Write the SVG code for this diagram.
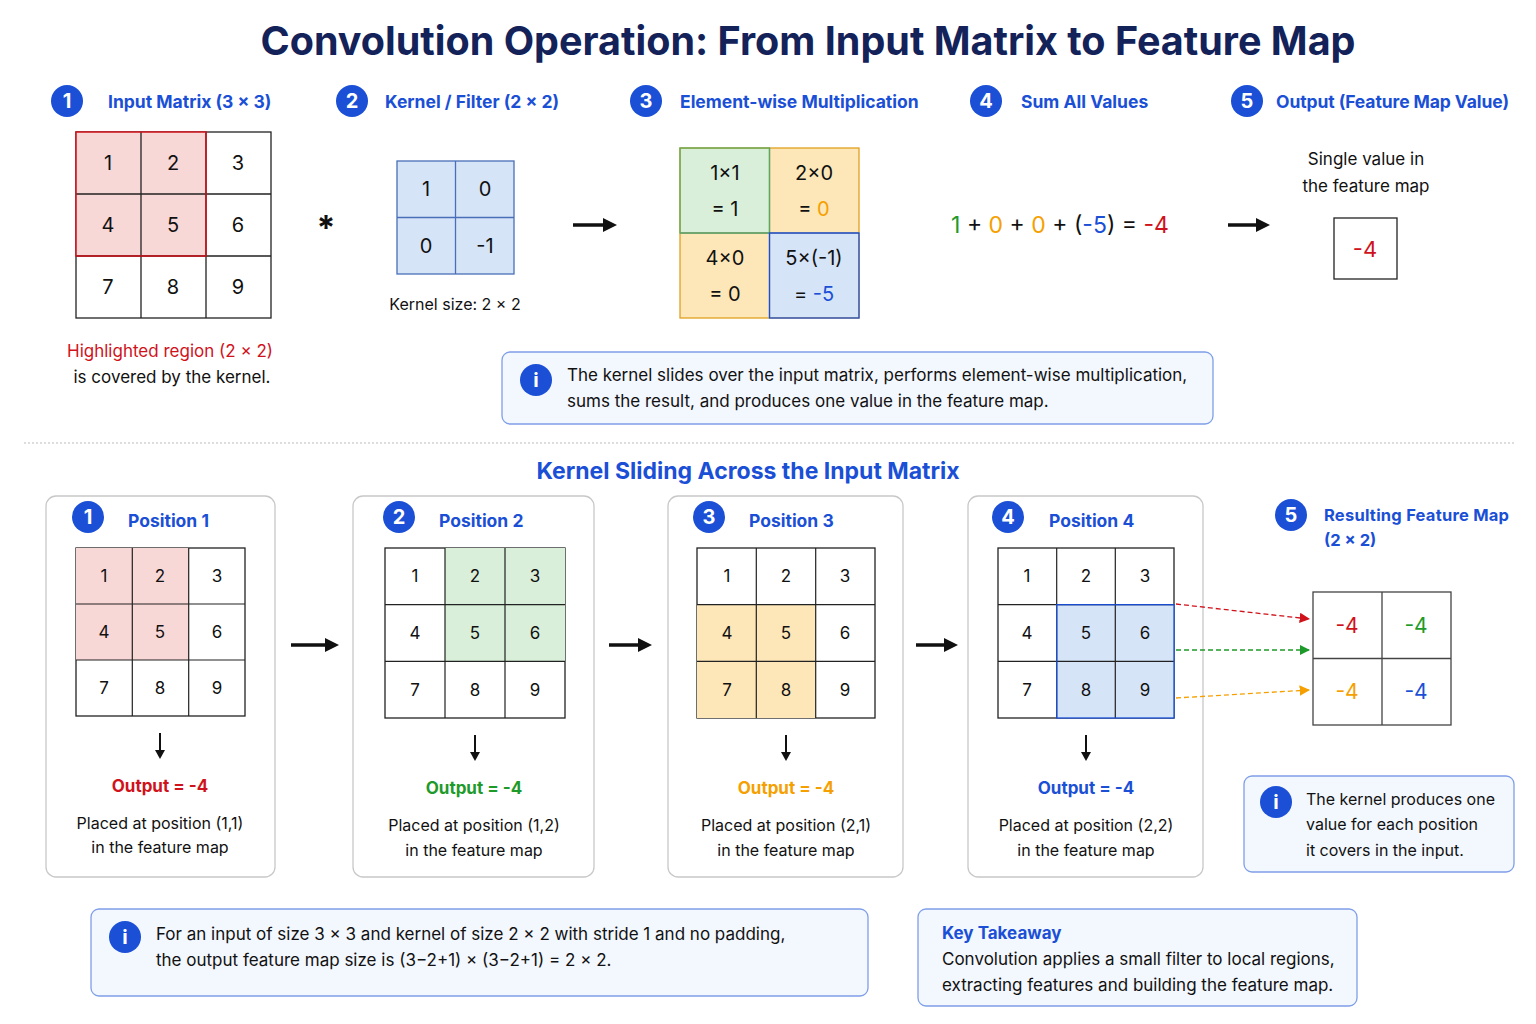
<svg xmlns="http://www.w3.org/2000/svg" width="1536" height="1024" viewBox="0 0 1536 1024">
<style>
text{font-family:Inter,"Noto Sans","Liberation Sans",sans-serif;fill:#111}
.t{font-size:39.5px;font-weight:700;fill:#14225a}
.h{font-size:17.5px;font-weight:700;fill:#1a4fd6}
.bn{font-size:20px;font-weight:700;fill:#fff}
.c{font-size:20px}
.s{font-size:16px}
.m{font-size:17px}
.cell{fill:#fff;stroke:#222;stroke-width:1.3}
.pan{fill:#fff;stroke:#c8c8c8;stroke-width:1.3}
.info{fill:#f3f7fe;stroke:#7f9fe8;stroke-width:1.3}
.red{fill:#d0121b}.grn{fill:#1e9a2a}.org{fill:#f5a000}.blu{fill:#1a4fd6}
.ar{stroke:#111;stroke-width:3.5;fill:none}
.dn{stroke:#111;stroke-width:2;fill:none}
</style>
<defs>
<marker id="ah" viewBox="0 0 10 10" refX="5" refY="5" markerWidth="4" markerHeight="4" orient="auto"><path d="M0,0L10,5L0,10z" fill="#111"/></marker>
<marker id="ar" viewBox="0 0 10 10" refX="9" refY="5" markerWidth="8" markerHeight="8" orient="auto"><path d="M0,0L10,5L0,10z" fill="#d0121b"/></marker>
<marker id="ag" viewBox="0 0 10 10" refX="9" refY="5" markerWidth="8" markerHeight="8" orient="auto"><path d="M0,0L10,5L0,10z" fill="#1e9a2a"/></marker>
<marker id="ao" viewBox="0 0 10 10" refX="9" refY="5" markerWidth="8" markerHeight="8" orient="auto"><path d="M0,0L10,5L0,10z" fill="#f5a000"/></marker>
</defs>
<rect width="1536" height="1024" fill="#fff"/>
<text class="t" x="808" y="55" text-anchor="middle">Convolution Operation: From Input Matrix to Feature Map</text>

<g id="headers">
<circle cx="67" cy="101" r="16" fill="#1a4fd6"/><text class="bn" x="67" y="108" text-anchor="middle">1</text><text class="h" x="108" y="108">Input Matrix (3 × 3)</text>
<circle cx="352" cy="101" r="16" fill="#1a4fd6"/><text class="bn" x="352" y="108" text-anchor="middle">2</text><text class="h" x="385" y="108">Kernel / Filter (2 × 2)</text>
<circle cx="646" cy="101" r="16" fill="#1a4fd6"/><text class="bn" x="646" y="108" text-anchor="middle">3</text><text class="h" x="680" y="108">Element-wise Multiplication</text>
<circle cx="986" cy="101" r="16" fill="#1a4fd6"/><text class="bn" x="986" y="108" text-anchor="middle">4</text><text class="h" x="1021" y="108">Sum All Values</text>
<circle cx="1247" cy="101" r="16" fill="#1a4fd6"/><text class="bn" x="1247" y="108" text-anchor="middle">5</text><text class="h" x="1276" y="108" textLength="233">Output (Feature Map Value)</text>
</g>

<g id="input">
<rect x="76" y="132" width="195" height="186" class="cell"/>
<rect x="76" y="132" width="130" height="124" fill="#f8d7d7"/>
<path d="M141,132V318M206,132V318M76,194H271M76,256H271" stroke="#222" stroke-width="1.3"/>
<rect x="76" y="132" width="130" height="124" fill="none" stroke="#d0121b" stroke-width="1.5"/>
<g class="c" text-anchor="middle">
<text x="108" y="170">1</text><text x="173" y="170">2</text><text x="238" y="170">3</text>
<text x="108" y="232">4</text><text x="173" y="232">5</text><text x="238" y="232">6</text>
<text x="108" y="294">7</text><text x="173" y="294">8</text><text x="238" y="294">9</text></g>
<text class="m red" x="170" y="357" text-anchor="middle">Highlighted region (2 × 2)</text>
<text class="m" x="172" y="383" text-anchor="middle">is covered by the kernel.</text>
</g>
<text x="326" y="240" font-size="34" font-weight="700" text-anchor="middle">*</text>

<g id="kernel">
<rect x="397" y="161" width="117" height="113" fill="#d6e4f7" stroke="#4a6fb8" stroke-width="1.3"/>
<path d="M455.5,161V274M397,217.5H514" stroke="#4a6fb8" stroke-width="1.3"/>
<g class="c" text-anchor="middle"><text x="426" y="196">1</text><text x="485" y="196">0</text><text x="426" y="253">0</text><text x="485" y="253">-1</text></g>
<text class="s" x="455" y="310" text-anchor="middle">Kernel size: 2 × 2</text>
</g>

<g id="mult">
<rect x="680" y="148" width="89.5" height="85" fill="#d9efd9"/>
<rect x="769.5" y="148" width="89.5" height="85" fill="#fde7b8"/>
<rect x="680" y="233" width="89.5" height="85" fill="#fde7b8"/>
<rect x="769.5" y="233" width="89.5" height="85" fill="#d6e4f7"/>
<rect x="680" y="148" width="179" height="170" fill="none" stroke="#e0a020" stroke-width="1.3"/>
<path d="M769.5,148V318M680,233H859" stroke="#888" stroke-width="1.3"/>
<rect x="680" y="148" width="89.5" height="85" fill="none" stroke="#5aaa5a" stroke-width="1.3"/>
<rect x="769.5" y="233" width="89.5" height="85" fill="none" stroke="#1a4fd6" stroke-width="1.3"/>
<g class="c" text-anchor="middle">
<text x="725" y="180">1×1</text><text x="725" y="216">= 1</text>
<text x="814" y="180">2×0</text><text x="814" y="216">= <tspan class="org">0</tspan></text>
<text x="725" y="265">4×0</text><text x="725" y="301">= 0</text>
<text x="814" y="265">5×(-1)</text><text x="814" y="301">= <tspan class="blu">-5</tspan></text></g>
</g>

<g id="sum"><text x="1060" y="233" font-size="23" text-anchor="middle"><tspan class="grn">1</tspan> + <tspan class="org">0</tspan> + <tspan class="org">0</tspan> + (<tspan class="blu">-5</tspan>) = <tspan class="red">-4</tspan></text></g>

<g id="output">
<text class="m" x="1366" y="165" text-anchor="middle">Single value in</text>
<text class="m" x="1366" y="192" text-anchor="middle">the feature map</text>
<rect x="1334" y="218" width="63" height="61" class="cell"/>
<text x="1365" y="257" font-size="22" text-anchor="middle" class="red">-4</text>
</g>

<g id="info1">
<rect x="502" y="352" width="711" height="72" rx="8" class="info"/>
<circle cx="536" cy="380" r="16" fill="#1a4fd6"/><text class="bn" x="536" y="387" text-anchor="middle">i</text>
<text class="m" x="567" y="381">The kernel slides over the input matrix, performs element-wise multiplication,</text>
<text class="m" x="567" y="407">sums the result, and produces one value in the feature map.</text>
</g>

<line x1="24" y1="443" x2="1514" y2="443" stroke="#bbb" stroke-dasharray="2,2"/>
<text x="748" y="479" font-size="23" font-weight="700" style="fill:#1a4fd6" text-anchor="middle">Kernel Sliding Across the Input Matrix</text>

<g id="pos1">
<rect x="46" y="496" width="229" height="381" rx="10" class="pan"/>
<circle cx="88" cy="517" r="16" fill="#1a4fd6"/><text class="bn" x="88" y="524" text-anchor="middle">1</text><text class="h" x="128" y="527">Position 1</text>
<rect x="76" y="548" width="169" height="168" class="cell"/>
<rect x="76" y="548" width="113" height="112" fill="#f8d7d7"/>
<path d="M132.3,548V716M188.7,548V716M76,604H245M76,660H245" stroke="#222" stroke-width="1.2"/>
<g class="m" text-anchor="middle"><text x="104" y="582">1</text><text x="160" y="582">2</text><text x="217" y="582">3</text><text x="104" y="638">4</text><text x="160" y="638">5</text><text x="217" y="638">6</text><text x="104" y="694">7</text><text x="160" y="694">8</text><text x="217" y="694">9</text></g>
<text class="m red" x="160" y="792" text-anchor="middle" font-weight="700">Output = -4</text>
<text class="s" x="160" y="829" text-anchor="middle">Placed at position (1,1)</text>
<text class="s" x="160" y="853" text-anchor="middle">in the feature map</text>
</g>

<g id="pos2">
<rect x="353" y="496" width="241" height="381" rx="10" class="pan"/>
<circle cx="399" cy="517" r="16" fill="#1a4fd6"/><text class="bn" x="399" y="524" text-anchor="middle">2</text><text class="h" x="439" y="527">Position 2</text>
<rect x="385" y="548" width="180" height="170" class="cell"/>
<rect x="445" y="548" width="120" height="113" fill="#d9efd9"/>
<path d="M445,548V718M505,548V718M385,604.7H565M385,661.3H565" stroke="#222" stroke-width="1.2"/>
<g class="m" text-anchor="middle"><text x="415" y="582">1</text><text x="475" y="582">2</text><text x="535" y="582">3</text><text x="415" y="639">4</text><text x="475" y="639">5</text><text x="535" y="639">6</text><text x="415" y="696">7</text><text x="475" y="696">8</text><text x="535" y="696">9</text></g>
<text class="m grn" x="474" y="794" text-anchor="middle" font-weight="700">Output = -4</text>
<text class="s" x="474" y="831" text-anchor="middle">Placed at position (1,2)</text>
<text class="s" x="474" y="856" text-anchor="middle">in the feature map</text>
</g>

<g id="pos3">
<rect x="668" y="496" width="235" height="381" rx="10" class="pan"/>
<circle cx="709" cy="517" r="16" fill="#1a4fd6"/><text class="bn" x="709" y="524" text-anchor="middle">3</text><text class="h" x="749" y="527">Position 3</text>
<rect x="697" y="548" width="178" height="170" class="cell"/>
<rect x="697" y="604.7" width="118.7" height="113.3" fill="#fde7b8"/>
<path d="M756.3,548V718M815.7,548V718M697,604.7H875M697,661.3H875" stroke="#222" stroke-width="1.2"/>
<g class="m" text-anchor="middle"><text x="727" y="582">1</text><text x="786" y="582">2</text><text x="845" y="582">3</text><text x="727" y="639">4</text><text x="786" y="639">5</text><text x="845" y="639">6</text><text x="727" y="696">7</text><text x="786" y="696">8</text><text x="845" y="696">9</text></g>
<text class="m org" x="786" y="794" text-anchor="middle" font-weight="700">Output = -4</text>
<text class="s" x="786" y="831" text-anchor="middle">Placed at position (2,1)</text>
<text class="s" x="786" y="856" text-anchor="middle">in the feature map</text>
</g>

<g id="pos4">
<rect x="968" y="496" width="235" height="381" rx="10" class="pan"/>
<circle cx="1008" cy="517" r="16" fill="#1a4fd6"/><text class="bn" x="1008" y="524" text-anchor="middle">4</text><text class="h" x="1049" y="527">Position 4</text>
<rect x="998" y="548" width="176" height="170" class="cell"/>
<rect x="1056.7" y="604.7" width="117.3" height="113.3" fill="#d6e4f7"/>
<path d="M1056.7,548V718M1115.3,548V718M998,604.7H1174M998,661.3H1174" stroke="#222" stroke-width="1.2"/>
<rect x="1056.7" y="604.7" width="117.3" height="113.3" fill="none" stroke="#1a4fd6" stroke-width="1.3"/>
<g class="m" text-anchor="middle"><text x="1027" y="582">1</text><text x="1086" y="582">2</text><text x="1145" y="582">3</text><text x="1027" y="639">4</text><text x="1086" y="639">5</text><text x="1145" y="639">6</text><text x="1027" y="696">7</text><text x="1086" y="696">8</text><text x="1145" y="696">9</text></g>
<text class="m blu" x="1086" y="794" text-anchor="middle" font-weight="700">Output = -4</text>
<text class="s" x="1086" y="831" text-anchor="middle">Placed at position (2,2)</text>
<text class="s" x="1086" y="856" text-anchor="middle">in the feature map</text>
</g>

<g id="result">
<circle cx="1291" cy="515" r="16" fill="#1a4fd6"/><text class="bn" x="1291" y="522" text-anchor="middle">5</text>
<text class="h" x="1324" y="521" style="font-size:16.5px" textLength="185">Resulting Feature Map</text>
<text class="h" x="1324" y="546" style="font-size:16.5px">(2 × 2)</text>
<rect x="1313" y="592" width="138" height="133" fill="#fff" stroke="#444" stroke-width="1.3"/>
<path d="M1382,592V725M1313,658.5H1451" stroke="#444" stroke-width="1.3"/>
<g font-size="21" text-anchor="middle"><text x="1347" y="633" class="red">-4</text><text x="1416" y="633" class="grn">-4</text><text x="1347" y="699" class="org">-4</text><text x="1416" y="699" class="blu">-4</text></g>
</g>

<g id="info2">
<rect x="1244" y="776" width="270" height="96" rx="8" class="info"/>
<circle cx="1276" cy="802" r="16" fill="#1a4fd6"/><text class="bn" x="1276" y="809" text-anchor="middle">i</text>
<text class="s" x="1306" y="805">The kernel produces one</text>
<text class="s" x="1306" y="830">value for each position</text>
<text class="s" x="1306" y="856">it covers in the input.</text>
</g>

<g id="info3">
<rect x="91" y="909" width="777" height="87" rx="8" class="info"/>
<circle cx="125" cy="937" r="16" fill="#1a4fd6"/><text class="bn" x="125" y="944" text-anchor="middle">i</text>
<text class="m" x="156" y="940">For an input of size 3 × 3 and kernel of size 2 × 2 with stride 1 and no padding,</text>
<text class="m" x="156" y="966">the output feature map size is (3−2+1) × (3−2+1) = 2 × 2.</text>
</g>

<g id="takeaway">
<rect x="918" y="909" width="439" height="97" rx="8" class="info"/>
<text class="h" x="942" y="939" style="font-size:17px">Key Takeaway</text>
<text class="m" x="942" y="965">Convolution applies a small filter to local regions,</text>
<text class="m" x="942" y="991">extracting features and building the feature map.</text>
</g>

<g id="connectors">
<line x1="573" y1="225" x2="610" y2="225" class="ar" marker-end="url(#ah)"/>
<line x1="1228" y1="225" x2="1263" y2="225" class="ar" marker-end="url(#ah)"/>
<line x1="291" y1="645" x2="332" y2="645" class="ar" marker-end="url(#ah)"/>
<line x1="609" y1="645" x2="645" y2="645" class="ar" marker-end="url(#ah)"/>
<line x1="916" y1="645" x2="951" y2="645" class="ar" marker-end="url(#ah)"/>
<path class="dn" d="M160,733V752"/><path d="M155,750L165,750L160,759z" fill="#111"/>
<path class="dn" d="M475,735V754"/><path d="M470,752L480,752L475,761z" fill="#111"/>
<path class="dn" d="M786,735V754"/><path d="M781,752L791,752L786,761z" fill="#111"/>
<path class="dn" d="M1086,735V754"/><path d="M1081,752L1091,752L1086,761z" fill="#111"/>
<line x1="1176" y1="604" x2="1309" y2="619" stroke="#d0121b" stroke-width="1.3" stroke-dasharray="5,3" marker-end="url(#ar)"/>
<line x1="1176" y1="650" x2="1309" y2="650" stroke="#1e9a2a" stroke-width="1.3" stroke-dasharray="5,3" marker-end="url(#ag)"/>
<line x1="1176" y1="698" x2="1309" y2="690" stroke="#f5a000" stroke-width="1.3" stroke-dasharray="5,3" marker-end="url(#ao)"/>
</g>
</svg>
